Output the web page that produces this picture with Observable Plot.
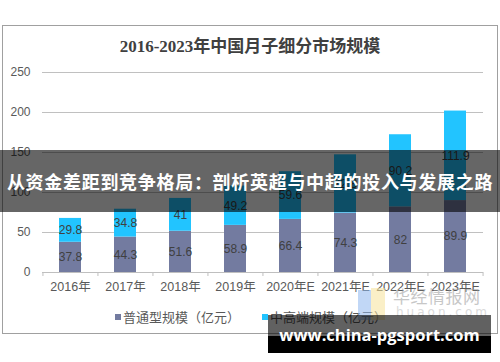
<!DOCTYPE html>
<html>
<head>
<meta charset="utf-8">
<script src="https://cdn.jsdelivr.net/npm/d3@7"></script>
<script src="https://cdn.jsdelivr.net/npm/@observablehq/plot@0.6"></script>
<style>
  html, body { margin: 0; padding: 0; background: #fff; }
  #page { position: relative; width: 500px; height: 362px; overflow: hidden; font-family: "Liberation Sans", "Noto Sans CJK SC", sans-serif; }
  #frame { position: absolute; left: 2px; top: 25px; width: 494px; height: 307px; border: 1px solid #a0a0a0; }
  #title { position: absolute; left: 0; width: 500px; top: 36px; text-align: center; font-family: "Liberation Serif", "Noto Sans CJK SC", serif; font-weight: bold; font-size: 17px; color: #404040; line-height: 22px; }
  #chart { position: absolute; left: 0; top: 0; }
  .leg { position: absolute; top: 308px; font-size: 13px; color: #595959; line-height: 18px; white-space: nowrap; font-family: "Noto Sans CJK SC", sans-serif; }
  .leg i { display: inline-block; width: 6px; height: 6px; margin-right: 2px; vertical-align: middle; position: relative; top: -1px; }
  #banner { position: absolute; left: 0; top: 150px; width: 500px; height: 62px; background: rgba(0,0,0,0.6); color: #fff; font-family: "Noto Sans CJK SC", sans-serif; font-weight: bold; font-size: 18px; line-height: 62px; text-align: center; white-space: nowrap; letter-spacing: 0.7px; }
  #logo { position: absolute; left: 358px; top: 286px; width: 125px; height: 34px; opacity: 0.55; }
  #logo .b { position: absolute; left: 0; top: 4px; width: 13px; height: 30px; background: #8fb8ef; }
  #logo .y { position: absolute; left: 13px; top: 2px; width: 14px; height: 32px; background: #f7e39a; }
  #logo .t { position: absolute; left: 35px; top: -1px; font-family: "Noto Sans CJK SC", sans-serif; font-size: 17px; color: #9a9a9a; letter-spacing: 0.5px; line-height: 22px; }
  #logo .u { position: absolute; left: 38px; top: 18px; font-family: "DejaVu Sans", sans-serif; font-size: 12px; color: #bdbdbd; letter-spacing: 3px; line-height: 16px; }
  #wm { position: absolute; left: 268px; top: 315px; width: 223px; height: 38px; }
  #wm .top { position: absolute; left: 0; top: 0; width: 223px; height: 21px; background: rgba(0,0,0,0.62); }
  #wm .bot { position: absolute; left: 0; top: 21px; width: 223px; height: 17px; background: #000; }
  #wm .txt { position: absolute; left: 0; top: 9px; width: 223px; text-align: center; color: #fff; font-family: "Open Sans", "DejaVu Sans", sans-serif; font-weight: bold; font-size: 16.5px; line-height: 22px; }
</style>
</head>
<body>
<div id="page">
  <div id="frame"></div>
  <div id="title"></div>
  <div id="chart"></div>
  <div id="legend"></div>
  <div id="logo"><div class="b"></div><div class="y"></div><div class="t">华经情报网</div><div class="u">huaon.com</div></div>
  <div id="banner"></div>
  <div id="wm"><div class="top"></div><div class="bot"></div><div class="txt">www.china-pgsport.com</div></div>
</div>
<script>
const titleText = "2016-2023年中国月子细分市场规模";
const bannerText = "从资金差距到竞争格局：剖析英超与中超的投入与发展之路";
const years = ["2016年", "2017年", "2018年", "2019年", "2020年E", "2021年E", "2022年E", "2023年E"];
const seriesNames = ["普通型规模（亿元）", "中高端规模（亿元）"];
const normalValues = [37.8, 44.3, 51.6, 58.9, 66.4, 74.3, 82, 89.9];
const highValues = [29.8, 34.8, 41, 49.2, 59.6, 72.8, 90.2, 111.9];
const yTicks = [0, 50, 100, 150, 200, 250];
const colors = ["#737ba0", "#22c4ff"];

document.getElementById("title").textContent = titleText;
document.getElementById("banner").textContent = bannerText;

const rows = [];
years.forEach((y, i) => rows.push({year: y, series: seriesNames[0], y1: 0, y2: normalValues[i], value: normalValues[i]}));
years.forEach((y, i) => rows.push({year: y, series: seriesNames[1], y1: normalValues[i], y2: normalValues[i] + highValues[i], value: highValues[i]}));

const step = (500 - 42 - 17) / years.length;

const plot = Plot.plot({
  width: 500,
  height: 362,
  marginTop: 72,
  marginBottom: 90,
  marginLeft: 42,
  marginRight: 17,
  style: {background: "transparent", fontFamily: "'Liberation Sans', 'Noto Sans CJK SC', sans-serif"},
  x: {domain: years, paddingInner: 0.6, paddingOuter: 0.3, label: null},
  y: {domain: [0, 250], label: null},
  color: {domain: seriesNames, range: colors},
  marks: [
    Plot.gridY(yTicks.filter(d => d > 0), {stroke: "#c0c0c0", strokeOpacity: 1}),
    Plot.barY(rows, {x: "year", y1: "y1", y2: "y2", fill: "series"}),
    Plot.ruleY([0], {stroke: "#bfbfbf"}),
    Plot.ruleX(years, {x: d => d, dx: -step / 2, y1: 0, y2: -5, stroke: "#bfbfbf"}),
    Plot.ruleX([years[years.length - 1]], {x: d => d, dx: step / 2, y1: 0, y2: -5, stroke: "#bfbfbf"}),
    Plot.text(rows, {x: "year", y: d => (d.y1 + d.y2) / 2, text: d => String(d.value), fill: "#404040", fontSize: 12}),
    Plot.axisY({ticks: yTicks, tickSize: 0, tickPadding: 12, fontSize: 12, color: "#595959"}),
    Plot.axisX({tickSize: 0, tickPadding: 10, fontSize: 12.5, color: "#595959", fontFamily: "'Liberation Sans', 'Noto Sans CJK SC', sans-serif"})
  ]
});
document.getElementById("chart").appendChild(plot);

const legend = document.getElementById("legend");
const legX = [115, 262];
seriesNames.forEach((s, i) => {
  const d = document.createElement("div");
  d.className = "leg";
  d.style.left = legX[i] + "px";
  const sw = document.createElement("i");
  sw.style.background = colors[i];
  d.appendChild(sw);
  d.appendChild(document.createTextNode(s));
  legend.appendChild(d);
});
</script>
</body>
</html>
